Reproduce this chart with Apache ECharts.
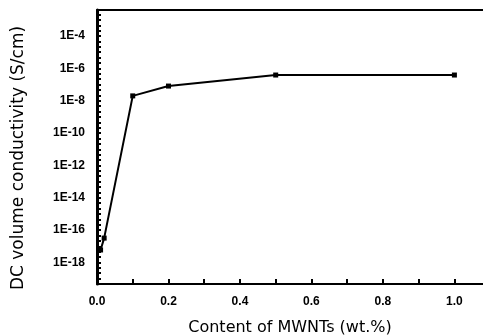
<!DOCTYPE html>
<html>
<head>
<meta charset="utf-8">
<script src="https://cdn.jsdelivr.net/npm/echarts@6/dist/echarts.min.js"></script>
<style>html,body{margin:0;padding:0;background:#fff}#c{width:483px;height:336px}</style>
</head>
<body>
<div id="c"></div>
<script>
const content = [0.01, 0.02, 0.1, 0.2, 0.5, 1.0];
const conductivity = [5.9e-18, 3.2e-17, 2.0e-8, 8.1e-8, 3.9e-7, 3.9e-7];
const xTickLabels = ['0.0', '0.2', '0.4', '0.6', '0.8', '1.0'];
const yTickLabels = ['1E-18', '1E-16', '1E-14', '1E-12', '1E-10', '1E-8', '1E-6', '1E-4'];
const xTitle = 'Content of MWNTs (wt.%)';
const yTitle = 'DC volume conductivity (S/cm)';

const chart = echarts.init(document.getElementById('c'), null, {renderer: 'canvas'});
function xFmt(v) {
  const s = v.toFixed(1);
  return xTickLabels.indexOf(s) >= 0 && Math.abs(v - parseFloat(s)) < 1e-6 ? s : '';
}
function yFmt(v) {
  const e = Math.log10(v);
  const r = Math.round(e);
  if (Math.abs(e - r) > 1e-3) return '';
  const s = '1E' + r;
  return yTickLabels.indexOf(s) >= 0 ? s : '';
}
const yMinExp = -58 / 3;
chart.setOption({
  animation: false,
  backgroundColor: '#fff',
  grid: {left: 97, right: 0, top: 10, bottom: 52, outerBoundsMode: 'none', containLabel: false},
  xAxis: [{
    type: 'value', min: 0, max: 1.08, interval: 0.1,
    axisLine: {show: true, onZero: false, lineStyle: {color: '#000', width: 2}},
    axisTick: {show: true, inside: true, length: 5, lineStyle: {color: '#000', width: 2}},
    axisLabel: {formatter: xFmt, interval: 0, color: '#000', fontSize: 12, fontWeight: 'bold', fontFamily: 'Arial', margin: 12, showMaxLabel: false},
    splitLine: {show: false},
    name: xTitle, nameLocation: 'middle', nameGap: 36,
    nameTextStyle: {color: '#000', fontSize: 16, fontFamily: 'DejaVu Sans'}
  }, {
    type: 'value', position: 'top', min: 0, max: 1.08,
    axisLine: {show: true, lineStyle: {color: '#000', width: 2}},
    axisTick: {show: false}, axisLabel: {show: false}, splitLine: {show: false}
  }],
  yAxis: {
    type: 'log', logBase: 10, min: Math.pow(10, yMinExp), max: 4.1e-3, interval: 1 / 3,
    axisLine: {show: true, lineStyle: {color: '#000', width: 3}},
    axisTick: {show: true, inside: true, length: 4, lineStyle: {color: '#000', width: 2}},
    minorTick: {show: false},
    axisLabel: {formatter: yFmt, interval: 0, color: '#000', fontSize: 12, fontWeight: 'bold', fontFamily: 'Arial', margin: 12, showMinLabel: false, showMaxLabel: false},
    splitLine: {show: false},
    name: yTitle, nameLocation: 'middle', nameGap: 70,
    nameTextStyle: {color: '#000', fontSize: 17, fontFamily: 'DejaVu Sans', padding: [0, 22, 0, 0]}
  },
  series: [{
    type: 'line',
    data: content.map((x, i) => [x, conductivity[i]]),
    symbol: 'rect', symbolSize: 5,
    itemStyle: {color: '#000'},
    lineStyle: {color: '#000', width: 2}
  }]
});
</script>
</body>
</html>
